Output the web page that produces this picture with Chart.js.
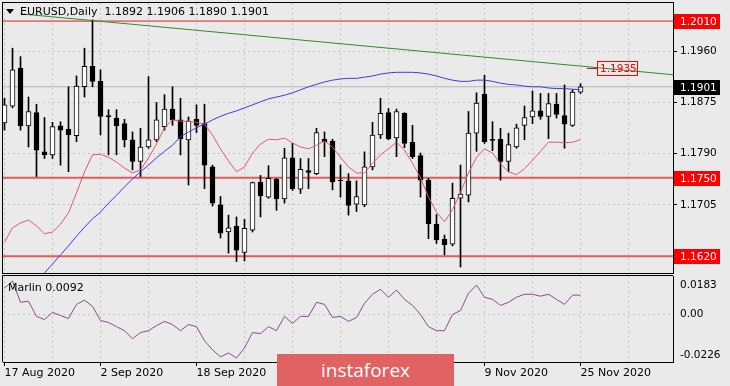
<!DOCTYPE html>
<html>
<head>
<meta charset="utf-8">
<script src="https://cdn.jsdelivr.net/npm/chart.js@4.4.0/dist/chart.umd.min.js"></script>
<style>
  html, body { margin: 0; padding: 0; background: #eaeaea; }
  #wrap { position: relative; width: 730px; height: 386px; overflow: hidden; background: #eaeaea; }
  canvas { position: absolute; left: 0; }
  #main { top: 0; }
  #sub { top: 274px; }
  #logo { position: absolute; left: 277px; top: 354px; width: 177px; height: 32px; background: #e06262;
          color: #fff; font: 19px "Open Sans", sans-serif; text-align: center; line-height: 32px; }
</style>
</head>
<body>
<div id="wrap">
  <canvas id="main" width="730" height="274"></canvas>
  <canvas id="sub" width="730" height="112"></canvas>
  <div id="logo">instaforex</div>
</div>
<script>
// tick labels every 12 bars, 17 Aug 2020 = bar 0 (the two under the logo are not visible)
const tickDates = ['17 Aug 2020', '2 Sep 2020', '18 Sep 2020', '', '', '9 Nov 2020', '25 Nov 2020'];

const open = [1.1841,1.1869,1.1932,1.1836,1.1858,1.1793,1.1788,1.1836,1.1831,1.1820,
  1.1901,1.1935,1.1910,1.1853,1.1849,1.1840,1.1813,1.1777,1.1801,1.1813,
  1.1835,1.1864,1.1846,1.1813,1.1847,1.1840,1.1768,1.1705,1.1660,1.1670,
  1.1626,1.1663,1.1743,1.1718,1.1748,1.1715,1.1783,1.1731,1.1762,1.1757,
  1.1814,1.1811,1.1746,1.1745,1.1706,1.1705,1.1768,1.1821,1.1858,1.1816,
  1.1857,1.1809,1.1787,1.1746,1.1673,1.1648,1.1640,1.1716,1.1721,1.1824,
  1.1889,1.1814,1.1814,1.1777,1.1801,1.1837,1.1851,1.1861,1.1852,1.1872,
  1.1853,1.1837,1.1892];
const high = [1.1882,1.1965,1.1951,1.1884,1.1872,1.1850,1.1842,1.1843,1.1901,1.1919,
  1.1965,1.2012,1.1929,1.1863,1.1863,1.1847,1.1826,1.1832,1.1918,1.1875,
  1.1888,1.1901,1.1882,1.1851,1.1871,1.1872,1.1771,1.1719,1.1688,1.1685,
  1.1681,1.1743,1.1754,1.1770,1.1749,1.1799,1.1807,1.1782,1.1782,1.1832,
  1.1826,1.1814,1.1771,1.1757,1.1745,1.1793,1.1842,1.1882,1.1865,1.1864,
  1.1858,1.1837,1.1791,1.1749,1.1689,1.1655,1.1741,1.1771,1.1860,1.1891,
  1.1920,1.1843,1.1832,1.1824,1.1839,1.1869,1.1894,1.1890,1.1890,1.1890,
  1.1904,1.1896,1.1906];
const low = [1.1829,1.1866,1.1829,1.1801,1.1752,1.1782,1.1782,1.1771,1.1760,1.1810,
  1.1884,1.1901,1.1821,1.1788,1.1788,1.1801,1.1763,1.1752,1.1799,1.1810,
  1.1829,1.1837,1.1788,1.1738,1.1825,1.1732,1.1703,1.1650,1.1625,1.1611,
  1.1612,1.1660,1.1685,1.1716,1.1696,1.1708,1.1729,1.1724,1.1732,1.1755,
  1.1785,1.1730,1.1718,1.1688,1.1694,1.1702,1.1763,1.1815,1.1813,1.1785,
  1.1800,1.1782,1.1718,1.1649,1.1641,1.1622,1.1637,1.1602,1.1710,1.1794,
  1.1807,1.1795,1.1746,1.1760,1.1799,1.1813,1.1840,1.1847,1.1815,1.1849,
  1.1799,1.1835,1.1890];
const close = [1.1871,1.1929,1.1836,1.1860,1.1796,1.1788,1.1835,1.1829,1.1821,1.1902,
  1.1935,1.1910,1.1852,1.1851,1.1836,1.1813,1.1777,1.1801,1.1813,1.1846,
  1.1864,1.1846,1.1815,1.1844,1.1837,1.1771,1.1708,1.1658,1.1667,1.1630,
  1.1666,1.1742,1.1720,1.1749,1.1715,1.1783,1.1732,1.1764,1.1759,1.1825,
  1.1810,1.1743,1.1745,1.1704,1.1719,1.1768,1.1821,1.1857,1.1815,1.1860,
  1.1807,1.1785,1.1746,1.1674,1.1647,1.1639,1.1716,1.1723,1.1824,1.1874,
  1.1810,1.1812,1.1777,1.1805,1.1833,1.1850,1.1861,1.1852,1.1873,1.1855,
  1.1839,1.1892,1.1901];

// fast (red) and slow (blue) moving averages
const maRed = [1.1643,1.1667,1.1675,1.1680,1.1670,1.1657,1.1660,1.1673,1.1692,1.1725,
  1.1760,1.1788,1.1789,1.1784,1.1776,1.1766,1.1758,1.1763,1.1783,1.1806,
  1.1833,1.1846,1.1844,1.1844,1.1842,1.1839,1.1821,1.1798,1.1778,1.1760,
  1.1768,1.1791,1.1806,1.1814,1.1813,1.1816,1.1808,1.1801,1.1798,1.1804,
  1.1811,1.1801,1.1784,1.1768,1.1758,1.1758,1.1774,1.1788,1.1798,1.1809,
  1.1796,1.1774,1.1750,1.1718,1.1693,1.1677,1.1697,1.1726,1.1758,1.1784,
  1.1798,1.1791,1.1773,1.1760,1.1755,1.1765,1.1779,1.1794,1.1809,1.1809,
  1.1808,1.1809,1.1813];
const maBlue = [null,null,null,1.1562,1.1577,1.1592,1.1607,1.1622,1.1637,1.1653,
  1.1668,1.1682,1.1693,1.1708,1.1721,1.1735,1.1748,1.1760,1.1771,1.1783,
  1.1794,1.1804,1.1818,1.1826,1.1833,1.1839,1.1846,1.1852,1.1857,1.1861,
  1.1866,1.1871,1.1876,1.1881,1.1884,1.1887,1.1891,1.1896,1.1901,1.1905,
  1.1909,1.1912,1.1914,1.1915,1.1915,1.1917,1.1919,1.1922,1.1924,1.1925,
  1.1925,1.1925,1.1924,1.1922,1.1919,1.1915,1.1912,1.1910,1.1910,1.1912,
  1.1912,1.1910,1.1907,1.1905,1.1904,1.1902,1.1901,1.1901,1.1899,1.1898,
  1.1898,1.1897,1.1896];

const marlin = [0.0125,0.0159,0.0058,0.0063,-0.0009,-0.0024,0.0010,-0.0005,-0.0019,0.0048,
  0.0068,0.0039,-0.0029,-0.0038,-0.0058,-0.0077,-0.0115,-0.0086,-0.0077,-0.0053,
  -0.0033,-0.0048,-0.0077,-0.0048,-0.0058,-0.0125,-0.0168,-0.0202,-0.0183,-0.0207,
  -0.0159,-0.0086,-0.0091,-0.0058,-0.0077,-0.0009,-0.0043,-0.0009,-0.0009,0.0058,
  0.0048,-0.0014,-0.0009,-0.0033,-0.0014,0.0053,0.0096,0.0120,0.0082,0.0116,
  0.0072,0.0043,0.0000,-0.0058,-0.0077,-0.0077,0.0000,0.0019,0.0101,0.0140,
  0.0082,0.0072,0.0043,0.0058,0.0082,0.0096,0.0096,0.0087,0.0096,0.0072,
  0.0048,0.0092,0.0092];

const levels = [1.2010, 1.1750, 1.1620];
const axisPrices = [1.1705, 1.1790, 1.1875, 1.1960];
const marlinTicks = [0.0183, 0, -0.0226];
const trendX = [2, 83.56];
const trendY = [1.2022, 1.1921];

const xMin = -0.1875, xMax = 83.5625;
const gridIdx = [0, 6, 12, 18, 24, 30, 36, 42, 48, 54, 60, 66, 72, 78];
const idx = open.map((_, i) => i);
const last = open.length - 1;
const font = 'DejaVu Sans';
const gridColor = '#c4c4c4';

function flat(v) { return [{x: xMin, y: v}, {x: xMax, y: v}]; }
function series(arr) { return idx.filter(i => arr[i] !== null).map(i => ({x: i, y: arr[i]})); }
function trendAt(i) { return trendY[0] + (trendY[1] - trendY[0]) * (i - trendX[0]) / (trendX[1] - trendX[0]); }

const mainPlugin = {
  id: 'mainExtras',
  afterDraw(chart) {
    const {ctx, chartArea: ca, scales: {x, y}} = chart;
    ctx.save();
    ctx.strokeStyle = '#000';
    ctx.lineWidth = 1;
    ctx.strokeRect(ca.left - 0.5, ca.top - 0.5, ca.right - ca.left + 1, ca.bottom - ca.top + 1);

    ctx.textBaseline = 'middle';
    ctx.textAlign = 'left';
    ctx.font = '10.5px "' + font + '"';
    const tag = (v, bg) => {
      const py = Math.round(y.getPixelForValue(v));
      ctx.fillStyle = bg;
      ctx.fillRect(ca.right + 1, py - 7, 46, 15);
      ctx.fillStyle = '#fff';
      ctx.fillText(v.toFixed(4), ca.right + 7, py + 1);
    };
    levels.forEach(v => tag(v, '#ff0000'));
    tag(close[last], '#000');

    // trend line value at the last bar, tagged a little to the right
    const tx = Math.round(x.getPixelForValue(last + 2.1));
    const ty = Math.round(y.getPixelForValue(trendAt(last + 2.1)));
    ctx.strokeStyle = '#a02828';
    ctx.beginPath(); ctx.moveTo(tx - 10, ty + 0.5); ctx.lineTo(tx, ty + 0.5); ctx.stroke();
    ctx.strokeStyle = '#ff0000';
    ctx.strokeRect(tx + 0.5, ty - 6.5, 40, 14);
    ctx.fillStyle = '#ff0000';
    ctx.fillText(trendAt(last).toFixed(4), tx + 3, ty + 1);

    // title
    ctx.fillStyle = '#000';
    ctx.font = '11px "' + font + '"';
    ctx.fillText('EURUSD,Daily  ' + [open[last], high[last], low[last], close[last]].map(v => v.toFixed(4)).join(' '), 20, 12);
    ctx.beginPath(); ctx.moveTo(6, 9); ctx.lineTo(14, 9); ctx.lineTo(10, 14); ctx.closePath(); ctx.fill();
    ctx.restore();
  }
};

new Chart(document.getElementById('main'), {
  type: 'bar',
  data: {
    datasets: [
      {type: 'line', data: series(maBlue), borderColor: '#3c3cdc', borderWidth: 1, pointRadius: 0, order: 2},
      {type: 'line', data: series(maRed), borderColor: '#dc5a6a', borderWidth: 1, pointRadius: 0, order: 3},
      {type: 'line', data: trendX.map((v, i) => ({x: v, y: trendY[i]})), borderColor: '#2f8a2f', borderWidth: 1, pointRadius: 0, order: 1},
      {data: idx.map(i => ({x: i, y: [open[i], close[i]]})),
       backgroundColor: idx.map(i => close[i] >= open[i] ? '#ffffff' : '#000000'),
       borderColor: '#000', borderWidth: 1, borderSkipped: false,
       barPercentage: 1, categoryPercentage: 1, maxBarThickness: 5, grouped: false, order: 5},
      {data: idx.map(i => ({x: i, y: [low[i], high[i]]})), backgroundColor: '#000',
       barPercentage: 1, categoryPercentage: 1, maxBarThickness: 1, grouped: false, order: 6},
      {type: 'line', data: flat(close[last]), borderColor: '#b4b4b4', borderWidth: 1, pointRadius: 0, order: 9},
      {type: 'line', data: flat(levels[0]), borderColor: '#dc1e1e', borderWidth: 1, pointRadius: 0, order: 8},
      {type: 'line', data: flat(levels[1]), borderColor: '#e35c5c', borderWidth: 2, pointRadius: 0, order: 8},
      {type: 'line', data: flat(levels[2]), borderColor: '#e35c5c', borderWidth: 2, pointRadius: 0, order: 8}
    ]
  },
  options: {
    responsive: false,
    animation: false,
    devicePixelRatio: 1,
    events: [],
    layout: {padding: {left: 3, top: 3, right: 0, bottom: 1}},
    plugins: {legend: {display: false}, tooltip: {enabled: false}},
    scales: {
      x: {
        type: 'linear', min: xMin, max: xMax, offset: false,
        afterBuildTicks: s => { s.ticks = gridIdx.map(v => ({value: v})); },
        afterFit: s => { s.height = 0; s.paddingLeft = 0; s.paddingRight = 0; },
        ticks: {display: false},
        grid: {color: gridColor, drawTicks: false, offset: false},
        border: {display: false, dash: [2, 3]}
      },
      y: {
        position: 'right', min: 1.1592, max: 1.2040,
        afterBuildTicks: s => { s.ticks = axisPrices.map(v => ({value: v})); },
        afterFit: s => { s.width = 57; s.paddingTop = 0; s.paddingBottom = 0; },
        ticks: {color: '#000', padding: 3, font: {family: font, size: 10.5}, callback: v => v.toFixed(4)},
        grid: {color: gridColor, tickColor: '#000', tickLength: 4},
        border: {color: '#000', dash: [2, 3]}
      }
    }
  },
  plugins: [mainPlugin]
});

const subPlugin = {
  id: 'subExtras',
  afterDraw(chart) {
    const {ctx, chartArea: ca, scales: {y}} = chart;
    ctx.save();
    ctx.strokeStyle = '#000';
    ctx.lineWidth = 1;
    ctx.beginPath();
    ctx.moveTo(ca.left - 0.5, ca.bottom);
    ctx.lineTo(ca.left - 0.5, ca.top - 0.5);
    ctx.lineTo(ca.right, ca.top - 0.5);
    ctx.stroke();
    ctx.fillStyle = '#000';
    ctx.textBaseline = 'middle';
    ctx.font = '11px "' + font + '"';
    ctx.fillText('Marlin ' + marlin[last].toFixed(4), 8, 14);
    ctx.font = '10.5px "' + font + '"';
    marlinTicks.forEach((v, i) => {
      let py = y.getPixelForValue(v);
      if (i === 0) py += 9;
      if (i === marlinTicks.length - 1) py -= 7;
      ctx.fillText(v === 0 ? '0.00' : v.toFixed(4), ca.right + 7, py);
    });
    ctx.restore();
  }
};

new Chart(document.getElementById('sub'), {
  type: 'line',
  data: {
    datasets: [
      {data: series(marlin), borderColor: '#8c4a8c', borderWidth: 1, pointRadius: 0}
    ]
  },
  options: {
    responsive: false,
    animation: false,
    devicePixelRatio: 1,
    events: [],
    layout: {padding: {left: 3, top: 2, right: 0, bottom: 0}},
    plugins: {legend: {display: false}, tooltip: {enabled: false}},
    scales: {
      x: {
        type: 'linear', min: xMin, max: xMax, offset: false,
        afterBuildTicks: s => { s.ticks = gridIdx.map(v => ({value: v})); },
        afterFit: s => { s.height = 24; s.paddingLeft = 0; s.paddingRight = 0; },
        ticks: {autoSkip: false, maxRotation: 0, align: 'start', padding: 1, color: '#000',
                font: {family: font, size: 11},
                callback: v => v % 12 === 0 ? (tickDates[v / 12] || '') : ''},
        grid: {color: gridColor, tickLength: 4,
               tickColor: c => (c.tick && c.tick.value % 12 === 0) ? '#000' : 'rgba(0,0,0,0)'},
        border: {color: '#000', dash: [2, 3]}
      },
      y: {
        position: 'right', min: -0.0226, max: 0.0183,
        afterBuildTicks: s => { s.ticks = [{value: 0}]; },
        afterFit: s => { s.width = 57; s.paddingTop = 0; s.paddingBottom = 0; },
        ticks: {display: false},
        grid: {color: gridColor, drawTicks: false},
        border: {color: '#000', dash: [2, 3]}
      }
    }
  },
  plugins: [subPlugin]
});
</script>
</body>
</html>
